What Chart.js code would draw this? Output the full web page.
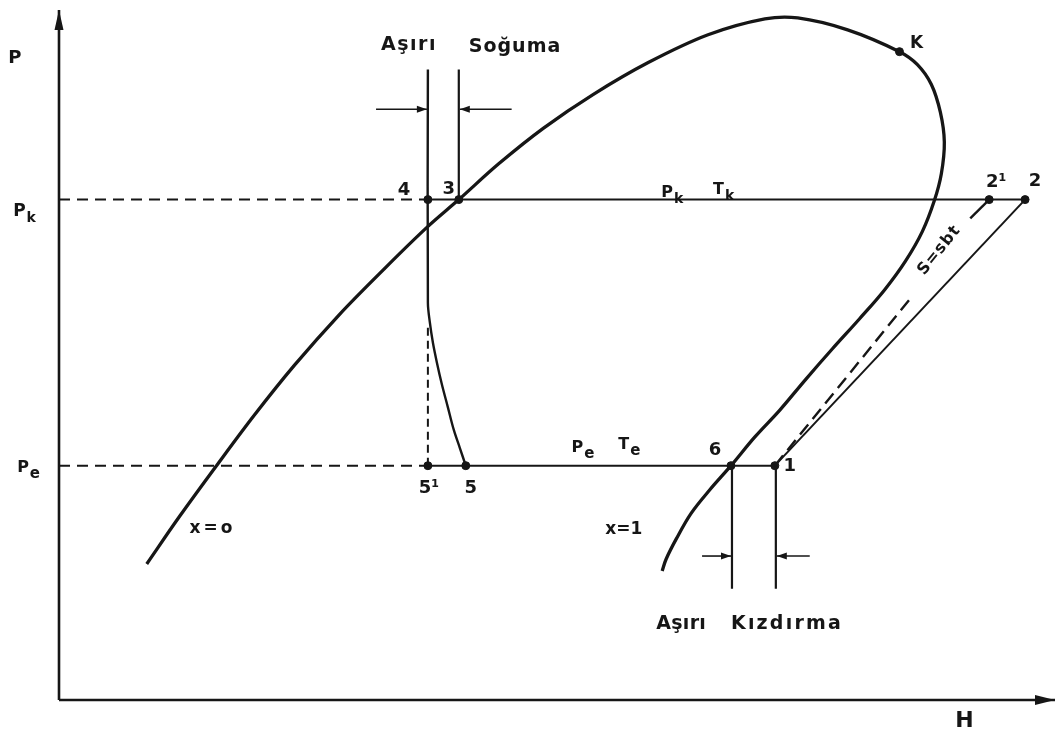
<!DOCTYPE html>
<html>
<head>
<meta charset="utf-8">
<script src="https://cdn.jsdelivr.net/npm/chart.js@4.4.0/dist/chart.umd.min.js"></script>
<style>
  html, body { margin: 0; padding: 0; background: #fff; }
  #wrap { width: 1061px; height: 731px; }
</style>
</head>
<body>
<div id="wrap"><canvas id="phChart"></canvas></div>
<script>
// P-H diagram of a vapour compression cycle (subcooling + superheat)

const PK = 50.4;   // condenser pressure
const PE = 23.6;   // evaporator pressure

// cycle state points
const stateNames = ['1', '2', '2¹', '3', '4', '5¹', '5', '6', 'K'];
const stateH = [71.8, 96.9, 93.3, 40.1, 37.0, 37.0, 40.8, 67.4, 84.3];
const stateP = [PE, PK, PK, PK, PK, PE, PE, PE, 65.3];

// saturation dome, x=0 branch -> K -> x=1 branch
const domeH = [8.8, 12.1, 15.8, 19.6, 23.6, 28.1, 32.6, 36.9, 40.1, 44.1, 48.6, 53.6, 59.1, 65.1, 70.8, 74.1,
  79.1, 84.3, 86.1, 87.5, 88.4, 88.8, 88.5, 87.8, 86.6, 84.9, 82.8, 80.3, 77.6, 74.9, 72.3, 69.8, 67.4,
  65.3, 63.4, 61.9, 60.9, 60.5];
const domeP = [13.7, 18.5, 23.6, 28.7, 33.7, 38.8, 43.4, 47.6, 50.4, 54.0, 57.6, 61.0, 64.2, 67.0, 68.6, 68.7,
  67.5, 65.3, 64.0, 62.0, 59.2, 56.2, 53.0, 50.3, 47.2, 44.2, 41.3, 38.4, 35.4, 32.3, 29.2, 26.5, 23.6,
  21.2, 18.8, 16.2, 14.2, 13.0];

// liquid isotherm through 4 down to 5
const isoH = [37.0, 37.0, 37.2, 37.5, 37.9, 38.4, 39.0, 39.6, 40.2, 40.8];
const isoP = [63.5, 40.0, 38.0, 36.0, 34.0, 31.8, 29.5, 27.2, 25.4, 23.6];

// isentrope 1 -> 2' (broken where the label sits)
const isenLowH = [71.8, 85.6];
const isenLowP = [PE, 40.7];
const isenHighH = [91.4, 93.3];
const isenHighP = [48.5, PK];

// dimension marks for subcooling and superheat
const markTopP = 63.5;
const subcoolArrowP = 59.5;
const subcoolTails = [31.8, 45.4];
const superheatBottomP = 11.2;
const superheatArrowP = 14.5;
const superheatTails = [64.5, 75.3];

const ink = '#161616';

function pts(hs, ps) {
  return hs.map((h, i) => ({ x: h, y: ps[i] }));
}

function line(hs, ps, extra) {
  return Object.assign({
    data: pts(hs, ps),
    showLine: true,
    borderColor: ink,
    borderWidth: 2,
    pointRadius: 0,
    pointHoverRadius: 0,
    tension: 0,
    clip: false
  }, extra || {});
}

const H = {};
stateNames.forEach((n, i) => { H[n] = stateH[i]; });

const datasets = [
  // axes
  line([0, 99.9], [0, 0], { borderWidth: 2.6, arrowHead: [20, 5] }),
  line([0, 0], [0, 69.5], { borderWidth: 2.6, arrowHead: [20, 4.5] }),

  // dome and liquid isotherm
  line(domeH, domeP, { borderWidth: 3.3, tension: 0.35 }),
  line(isoH, isoP, { borderWidth: 2.4, tension: 0.35 }),
  line([H['3'], H['3']], [markTopP, PK], { borderWidth: 2.2 }),

  // condensing / evaporating pressure lines
  line([0, H['4']], [PK, PK], { borderDash: [11, 7] }),
  line([H['4'], H['2']], [PK, PK]),
  line([0, H['5¹']], [PE, PE], { borderDash: [11, 7] }),
  line([H['5¹'], H['1']], [PE, PE]),
  line([H['5¹'], H['5¹']], [PE, 37.5], { borderDash: [8, 5] }),

  // compression
  line([H['1'], H['2']], [PE, PK]),
  line(isenLowH, isenLowP, { borderDash: [13, 7], borderWidth: 2.4 }),
  line(isenHighH, isenHighP, { borderWidth: 2.4 }),

  // subcooling arrows
  line([subcoolTails[0], H['4'] - 0.1], [subcoolArrowP, subcoolArrowP], { borderWidth: 1.6, arrowHead: [10, 3.5] }),
  line([subcoolTails[1], H['3'] + 0.1], [subcoolArrowP, subcoolArrowP], { borderWidth: 1.6, arrowHead: [10, 3.5] }),

  // superheat marks
  line([H['6'] + 0.1, H['6'] + 0.1], [PE, superheatBottomP], { borderWidth: 2.2 }),
  line([H['1'] + 0.1, H['1'] + 0.1], [PE, superheatBottomP], { borderWidth: 2.2 }),
  line([superheatTails[0], H['6']], [superheatArrowP, superheatArrowP], { borderWidth: 1.6, arrowHead: [10, 3.5] }),
  line([superheatTails[1], H['1'] + 0.2], [superheatArrowP, superheatArrowP], { borderWidth: 1.6, arrowHead: [10, 3.5] }),

  // state points
  {
    data: pts(stateH, stateP),
    showLine: false,
    pointRadius: 4,
    pointHoverRadius: 4,
    pointBackgroundColor: ink,
    pointBorderColor: ink,
    clip: false
  }
];

const arrowPlugin = {
  id: 'arrowHeads',
  afterDatasetsDraw(chart) {
    const ctx = chart.ctx;
    chart.data.datasets.forEach((ds, i) => {
      if (!ds.arrowHead) return;
      const els = chart.getDatasetMeta(i).data;
      const a = els[els.length - 2], b = els[els.length - 1];
      const ang = Math.atan2(b.y - a.y, b.x - a.x);
      const [len, half] = ds.arrowHead;
      ctx.save();
      ctx.translate(b.x, b.y);
      ctx.rotate(ang);
      ctx.beginPath();
      ctx.moveTo(0, 0);
      ctx.lineTo(-len, -half);
      ctx.lineTo(-len, half);
      ctx.closePath();
      ctx.fillStyle = ink;
      ctx.fill();
      ctx.restore();
    });
  }
};

const labelPlugin = {
  id: 'phLabels',
  afterDatasetsDraw(chart) {
    const { ctx, scales: { x, y } } = chart;
    const px = h => x.getPixelForValue(h);
    const py = p => y.getPixelForValue(p);
    const font = s => 'bold ' + s + 'px "DejaVu Sans", sans-serif';

    ctx.save();
    ctx.fillStyle = ink;
    ctx.textBaseline = 'alphabetic';

    function text(str, h, p, size, spacing) {
      ctx.font = font(size);
      ctx.letterSpacing = (spacing || 0) + 'px';
      ctx.textAlign = 'left';
      ctx.fillText(str, px(h), py(p));
    }

    function subText(main, sub, h, p, size, subSize) {
      ctx.font = font(size);
      ctx.letterSpacing = '0px';
      ctx.textAlign = 'left';
      const x0 = px(h), y0 = py(p);
      ctx.fillText(main, x0, y0);
      const w = ctx.measureText(main).width;
      ctx.font = font(subSize);
      ctx.fillText(sub, x0 + w + 1, y0 + 6);
    }

    // axis titles
    text('P', -5.1, 64.2, 18);
    text('H', 89.9, -2.7, 22);
    subText('P', 'k', -4.6, 48.7, 17, 14);
    subText('P', 'e', -4.2, 23.0, 16, 15);

    // line annotations
    subText('P', 'k', 60.4, 50.7, 16, 14);
    subText('T', 'k', 65.6, 51.0, 16, 14);
    subText('P', 'e', 51.4, 25.0, 16, 15);
    subText('T', 'e', 56.1, 25.3, 16, 15);
    text('x=o', 13.1, 16.8, 17, 3);
    text('x=1', 54.8, 16.7, 17, 0);
    text('Aşırı', 32.3, 65.5, 19, 1.5);
    text('Soğuma', 41.1, 65.3, 19, 1);
    text('Aşırı', 59.9, 7.2, 19, 0.3);
    text('Kızdırma', 67.4, 7.2, 19, 2.2);

    // state point numbers
    const nameOffset = {
      '1': [15, 5], '2': [10, -14], '2¹': [7, -13], '3': [-10, -6], '4': [-24, -5],
      '5¹': [1, 27], '5': [5, 27], '6': [-16, -11], 'K': [17, -4]
    };
    ctx.letterSpacing = '0px';
    ctx.textAlign = 'center';
    stateNames.forEach((n, i) => {
      const off = nameOffset[n];
      ctx.font = font(n === 'K' ? 17 : 18);
      ctx.fillText(n, px(stateH[i]) + off[0], py(stateP[i]) + off[1]);
    });

    // isentrope label along the 1 -> 2' line
    const i1 = stateNames.indexOf('1'), i2 = stateNames.indexOf('2¹');
    const ang = Math.atan2(py(stateP[i2]) - py(stateP[i1]), px(stateH[i2]) - px(stateH[i1]));
    ctx.translate(px(88.3), py(45.3));
    ctx.rotate(ang);
    ctx.font = font(16);
    ctx.letterSpacing = '1px';
    ctx.textBaseline = 'middle';
    ctx.fillText('S=sbt', 0, 0);
    ctx.restore();
  }
};

new Chart(document.getElementById('phChart'), {
  type: 'scatter',
  data: { datasets },
  options: {
    responsive: true,
    maintainAspectRatio: false,
    animation: false,
    layout: { padding: { left: 59, right: 2, top: 0, bottom: 31 } },
    plugins: { legend: { display: false }, tooltip: { enabled: false } },
    scales: {
      x: { type: 'linear', min: 0, max: 100, display: false },
      y: { type: 'linear', min: 0, max: 70, display: false }
    }
  },
  plugins: [arrowPlugin, labelPlugin]
});
</script>
</body>
</html>
